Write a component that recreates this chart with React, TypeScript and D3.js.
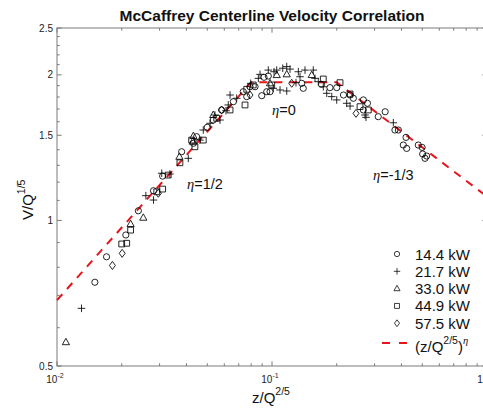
import React from "react";
import * as d3 from "d3";

// --- data (z/Q^2/5, V/Q^1/5) ---
const seriesNames = ["14.4 kW", "21.7 kW", "33.0 kW", "44.9 kW", "57.5 kW"];

const q144: [number, number][] = [
  [0.015, 0.745], [0.017, 0.841], [0.0209, 0.933], [0.0239, 1.047], [0.0281, 1.152],
  [0.031, 1.235], [0.038, 1.387], [0.0431, 1.444], [0.0446, 1.49], [0.05, 1.558],
  [0.0533, 1.613], [0.0583, 1.692], [0.0661, 1.76], [0.0735, 1.846], [0.0763, 1.803],
  [0.079, 1.89], [0.0834, 1.89], [0.0896, 1.811], [0.0918, 1.977], [0.0961, 1.989],
  [0.0945, 1.846], [0.0979, 1.846], [0.1375, 1.921], [0.1398, 1.876], [0.17, 1.912],
  [0.186, 1.882], [0.2, 1.882], [0.215, 1.817], [0.231, 1.817], [0.239, 1.789],
  [0.266, 1.775], [0.278, 1.747], [0.266, 1.692], [0.312, 1.639], [0.336, 1.678],
  [0.373, 1.538], [0.387, 1.538], [0.42, 1.485], [0.408, 1.432], [0.423, 1.409],
  [0.479, 1.432], [0.499, 1.416], [0.502, 1.372], [0.515, 1.344], [0.524, 1.359],
];

const q217: [number, number][] = [
  [0.013, 0.658], [0.0259, 1.125], [0.0281, 1.102], [0.0307, 1.252], [0.0335, 1.247],
  [0.0408, 1.344], [0.0462, 1.466], [0.0479, 1.538], [0.0515, 1.588], [0.0543, 1.652],
  [0.0573, 1.613], [0.0611, 1.686], [0.0626, 1.733], [0.0638, 1.817], [0.0685, 1.789],
  [0.0796, 1.921], [0.0864, 1.967], [0.088, 2.005], [0.0961, 2.046], [0.1022, 2.03],
  [0.1052, 2.046], [0.1122, 2.064], [0.1171, 2.08], [0.1213, 2.056], [0.1014, 1.876],
  [0.109, 1.861], [0.1171, 1.852], [0.1293, 1.927], [0.135, 1.982], [0.1326, 2.03],
  [0.1424, 2.046], [0.1556, 2.046], [0.1585, 1.967], [0.1642, 1.936], [0.1732, 1.89],
  [0.1797, 1.832], [0.1896, 1.803], [0.2, 1.775], [0.2226, 1.747], [0.2307, 1.724],
  [0.2708, 1.652], [0.2737, 1.634], [0.3667, 1.592],
];

const q330: [number, number][] = [
  [0.011, 0.56], [0.022, 0.983], [0.0252, 1.013], [0.0371, 1.354], [0.0428, 1.455],
  [0.0431, 1.495], [0.0533, 1.652], [0.0979, 1.921], [0.1052, 1.998], [0.1171, 2.005],
  [0.153, 1.998],
];

const q449: [number, number][] = [
  [0.02, 0.894], [0.0211, 0.897], [0.022, 0.955], [0.0291, 1.146], [0.031, 1.161],
  [0.0329, 1.241], [0.0373, 1.316], [0.0438, 1.42], [0.0423, 1.466], [0.0479, 1.466],
  [0.0553, 1.626], [0.0638, 1.692], [0.0749, 1.733], [0.0763, 1.867], [0.0818, 1.906],
  [0.0997, 1.906], [0.1732, 1.961], [0.2072, 1.927], [0.2307, 1.826], [0.2567, 1.719],
  [0.2805, 1.692],
];

const q575: [number, number][] = [
  [0.0181, 0.807], [0.0201, 0.855], [0.0296, 1.138], [0.0583, 1.692], [0.079, 1.817],
  [0.1235, 1.921], [0.2459, 1.665],
];

// McCaffrey correlation, straight segments on log-log axes
const corrZ = [0.01, 0.08, 0.2, 1];
const corrV = [0.684, 1.93, 1.93, 1.12];

const yMajor = [0.5, 1, 1.5, 2, 2.5];
const yMinor = [0.6, 0.7, 0.8, 0.9, 1.1, 1.2, 1.3, 1.4, 1.6, 1.7, 1.8, 1.9, 2.1, 2.2, 2.3, 2.4];
const xMajor = [0.01, 0.1, 1];
const xMinor = [0.02, 0.03, 0.04, 0.05, 0.06, 0.07, 0.08, 0.09, 0.2, 0.3, 0.4, 0.5, 0.6, 0.7, 0.8, 0.9];
const xTickExp = ["-2", "-1", ""];

const FONT = "'Liberation Sans', Arial, Helvetica, sans-serif";
const AXIS = "#7a7a7a";

const markerPath = (kind: string) => {
  switch (kind) {
    case "plus":
      return "M-3.8,0H3.8M0,-3.8V3.8";
    case "tri":
      return "M0,-3.9L3.6,2.5L-3.6,2.5Z";
    case "sq":
      return "M-2.9,-2.9H2.9V2.9H-2.9Z";
    case "dia":
      return "M0,-4L3,0L0,4L-3,0Z";
    default:
      return "M3.1,0A3.1,3.1 0 1 1 -3.1,0A3.1,3.1 0 1 1 3.1,0Z";
  }
};

const kinds = ["circ", "plus", "tri", "sq", "dia"];
const allSeries = [q144, q217, q330, q449, q575];

export default function App() {
  const W = 483;
  const H = 408;
  const x = d3.scaleLog().domain([0.01, 1]).range([57, 487]);
  const y = d3.scaleLog().domain([0.5, 2.5]).range([366, 28]);
  const [x0, x1] = x.range();
  const [y0, y1] = y.range();

  const corr = d3
    .line<number>()
    .x((_, i) => x(corrZ[i]))
    .y((_, i) => y(corrV[i]))(corrZ);

  const legY = (i: number) => 254 + i * 17.3;

  return (
    <svg
      width={W}
      height={H}
      style={{ position: "absolute", left: 0, top: 0, background: "#fff" }}
      fontFamily={FONT}
    >
      <rect width={W} height={H} fill="#fff" />
      <text x={272} y={21} textAnchor="middle" fontWeight="bold" fontSize={15.5} fill="#111">
        McCaffrey Centerline Velocity Correlation
      </text>

      {/* frame */}
      <rect x={x0} y={y1} width={x1 - x0} height={y0 - y1} fill="none" stroke={AXIS} strokeWidth={1} />

      {/* y ticks */}
      {yMajor.map((v) => (
        <g key={"ym" + v}>
          <line x1={x0} x2={x0 + 4.7} y1={y(v)} y2={y(v)} stroke={AXIS} />
          <line x1={x1} x2={x1 - 4.7} y1={y(v)} y2={y(v)} stroke={AXIS} />
          <text x={53} y={y(v) + 3.5} textAnchor="end" fontSize={10} fill="#222">
            {v}
          </text>
        </g>
      ))}
      {yMinor.map((v) => (
        <g key={"yn" + v}>
          <line x1={x0} x2={x0 + 2.7} y1={y(v)} y2={y(v)} stroke={AXIS} />
          <line x1={x1} x2={x1 - 2.7} y1={y(v)} y2={y(v)} stroke={AXIS} />
        </g>
      ))}

      {/* x ticks */}
      {xMajor.map((v, i) => (
        <g key={"xm" + v}>
          <line x1={x(v)} x2={x(v)} y1={y0} y2={y0 - 4.7} stroke={AXIS} />
          <line x1={x(v)} x2={x(v)} y1={y1} y2={y1 + 4.7} stroke={AXIS} />
          {xTickExp[i] ? (
            <text x={x(v) - 2} y={383} textAnchor="middle" fontSize={10} fill="#222">
              10<tspan dy={-5} fontSize={7}>{xTickExp[i]}</tspan>
            </text>
          ) : (
            <text x={x(v) - 7} y={383} textAnchor="middle" fontSize={10} fill="#222">
              {v}
            </text>
          )}
        </g>
      ))}
      {xMinor.map((v) => (
        <g key={"xn" + v}>
          <line x1={x(v)} x2={x(v)} y1={y0} y2={y0 - 2.7} stroke={AXIS} />
          <line x1={x(v)} x2={x(v)} y1={y1} y2={y1 + 2.7} stroke={AXIS} />
        </g>
      ))}

      {/* axis labels */}
      <text x={252} y={403} fontSize={15} fill="#111">
        z/Q<tspan dy={-8} fontSize={10.5}>2/5</tspan>
      </text>
      <text transform="translate(33,220) rotate(-90)" fontSize={15} fill="#111">
        V/Q<tspan dy={-8} fontSize={10.5}>1/5</tspan>
      </text>

      {/* correlation line */}
      <path d={corr || ""} fill="none" stroke="#e8141b" strokeWidth={2} strokeDasharray="8,7" />

      {/* data */}
      {allSeries.map((s, si) => (
        <g key={si} fill="none" stroke="#000" strokeWidth={0.85}>
          {s.map((d, i) => (
            <path key={i} d={markerPath(kinds[si])} transform={`translate(${x(d[0])},${y(d[1])})`} />
          ))}
        </g>
      ))}

      {/* regime labels */}
      <text x={272} y={115} fontSize={14.5} fill="#111">
        <tspan fontStyle="italic" fontFamily="'Liberation Serif', serif">η</tspan>=0
      </text>
      <text x={187} y={188.5} fontSize={14.5} fill="#111">
        <tspan fontStyle="italic" fontFamily="'Liberation Serif', serif">η</tspan>=1/2
      </text>
      <text x={373} y={179.5} fontSize={14.5} fill="#111">
        <tspan fontStyle="italic" fontFamily="'Liberation Serif', serif">η</tspan>=-1/3
      </text>

      {/* legend */}
      {seriesNames.map((n, i) => (
        <g key={n}>
          <path
            d={markerPath(kinds[i])}
            transform={`translate(397,${legY(i)}) scale(0.85)`}
            fill="none"
            stroke="#000"
            strokeWidth={0.9}
          />
          <text x={415} y={legY(i) + 5.5} fontSize={15} fill="#111">
            {n}
          </text>
        </g>
      ))}
      <line x1={382} x2={407} y1={343} y2={343} stroke="#e8141b" strokeWidth={2} strokeDasharray="8,9" />
      <text x={415} y={352} fontSize={15} fill="#111">
        (z/Q<tspan dy={-8} fontSize={10.5}>2/5</tspan>
        <tspan dy={8}>)</tspan>
        <tspan dy={-8} fontSize={10.5} fontStyle="italic" fontFamily="'Liberation Serif', serif">η</tspan>
      </text>
    </svg>
  );
}
